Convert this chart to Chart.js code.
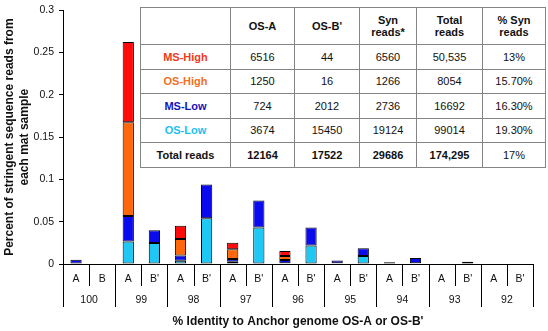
<!DOCTYPE html>
<html><head><meta charset="utf-8">
<script src="https://cdn.jsdelivr.net/npm/chart.js@4.4.1/dist/chart.umd.min.js"></script>
<style>
html,body{margin:0;padding:0;background:#fff;}
#wrap{position:relative;width:548px;height:331px;overflow:hidden;}
canvas{position:absolute;left:0;top:0;}
#tbl{position:absolute;left:140px;top:7px;width:405px;border-collapse:collapse;background:#fff;font-family:"Liberation Sans",Arial,sans-serif;font-size:11px;color:#111;table-layout:fixed;}
#tbl td{border:1.5px solid #858585;text-align:center;padding:0;line-height:12.5px;}
#tbl tr.h td{height:36px;font-weight:bold;}
#tbl tr.d td{height:23.5px;}
#tbl tr.t td{font-weight:bold;}
#tbl td.lab{font-weight:bold;}
</style></head><body>
<div id="wrap"><canvas id="c" width="548" height="331"></canvas><table id="tbl"></table></div>
<script>
// ---- chart data (fraction of stringent reads per mat sample) ----
const categories = ['A','B','A',"B'",'A',"B'",'A',"B'",'A',"B'",'A',"B'",'A',"B'",'A',"B'",'A',"B'"];
const groups = ['100','99','98','97','96','95','94','93','92'];
const osLow  = [null, null, 0.0266, 0.0247, 0.0039, 0.054, 0.0027, 0.0433, 0.001, 0.022, 0.001, 0.0095, null, 0.001, null, null, null, null];
const msLow  = [0.005, null, 0.0302, 0.0153, 0.0061, 0.040, 0.0031, 0.0317, 0.0036, 0.0213, 0.003, 0.0092, 0.0022, 0.0062, null, 0.0028, null, null];
const osHigh = [null, null, 0.1108, null, 0.0197, null, 0.0116, null, 0.005, null, null, null, null, null, null, null, null, null];
const msHigh = [null, null, 0.095, null, 0.0155, null, 0.0077, null, 0.0058, null, null, null, null, null, null, null, null, null];
const yTicks = [0, 0.05, 0.1, 0.15, 0.2, 0.25, 0.3];

// ---- table data ----
const tableHeader = [[''], ['OS-A'], ["OS-B'"], ['Syn','reads*'], ['Total','reads'], ['% Syn','reads']];
const tableRowLabels = ['MS-High','OS-High','MS-Low','OS-Low','Total reads'];
const tableRowColors = ['#EE3A1E','#F2701E','#1414B8','#1EBFEF','#111111'];
const osA = ['6516','1250','724','3674','12164'];
const osB = ['44','16','2012','15450','17522'];
const synReads = ['6560','1266','2736','19124','29686'];
const totalReads = ['50,535','8054','16692','99014','174,295'];
const pctSyn = ['13%','15.70%','16.30%','19.30%','17%'];
const colWidths = [90, 64, 65, 57, 66, 63];

// build table
(function(){
  const t = document.getElementById('tbl');
  const cg = document.createElement('colgroup');
  colWidths.forEach(w=>{const c=document.createElement('col');c.style.width=w+'px';cg.appendChild(c);});
  t.appendChild(cg);
  const hr = document.createElement('tr'); hr.className='h';
  tableHeader.forEach(lines=>{const td=document.createElement('td');lines.forEach((l,i)=>{if(i)td.appendChild(document.createElement('br'));td.appendChild(document.createTextNode(l));});hr.appendChild(td);});
  t.appendChild(hr);
  tableRowLabels.forEach((lab,r)=>{
    const tr=document.createElement('tr'); tr.className='d'+(r===tableRowLabels.length-1?' t':'');
    const vals=[lab, osA[r], osB[r], synReads[r], totalReads[r], pctSyn[r]];
    vals.forEach((v,i)=>{const td=document.createElement('td');td.textContent=v;
      if(i===0){td.className='lab';td.style.color=tableRowColors[r];}
      if(r===tableRowLabels.length-1 && i===5) td.style.fontWeight='normal';
      tr.appendChild(td);});
    t.appendChild(tr);
  });
})();

const FONT = '"Liberation Sans", Arial, sans-serif';

const groupPlugin = {
  id:'groups',
  afterDraw(chart){
    const x = chart.scales.x, ca = chart.chartArea, ctx = chart.ctx;
    const n = categories.length;
    ctx.save();
    ctx.strokeStyle = '#000'; ctx.lineWidth = 1;
    for(let i=0;i<=n;i++){
      let px;
      if(i===0) px = ca.left; else if(i===n) px = ca.right;
      else px = (x.getPixelForValue(i-1)+x.getPixelForValue(i))/2;
      const long = (i%2===0);
      ctx.beginPath();
      ctx.moveTo(Math.round(px)+0.5, ca.bottom);
      ctx.lineTo(Math.round(px)+0.5, ca.bottom + (long ? 43 : 22));
      ctx.stroke();
    }
    ctx.fillStyle = '#111';
    ctx.font = '10.5px ' + FONT;
    ctx.textAlign = 'center'; ctx.textBaseline = 'middle';
    groups.forEach((g,k)=>{
      const px = (x.getPixelForValue(2*k)+x.getPixelForValue(2*k+1))/2;
      ctx.fillText(g, px, ca.bottom + 36);
    });
    ctx.restore();
  }
};

const ds = (label, data, color) => ({label, data, backgroundColor: color, borderColor:'#000', borderWidth:1, borderSkipped:false});

new Chart(document.getElementById('c'), {
  type:'bar',
  data:{
    labels: categories,
    datasets:[
      ds('OS-Low', osLow, '#1FC8F4'),
      ds('MS-Low', msLow, '#0A0AEE'),
      ds('OS-High', osHigh, '#FF680A'),
      ds('MS-High', msHigh, '#FF0A0A')
    ]
  },
  options:{
    responsive:false, animation:false, devicePixelRatio:1,
    layout:{padding:{top:0,right:15,bottom:0,left:0}},
    datasets:{bar:{barPercentage:0.43, categoryPercentage:1}},
    plugins:{legend:{display:false}, tooltip:{enabled:false}},
    scales:{
      x:{
        stacked:true,
        grid:{display:false, drawTicks:false},
        border:{display:true, color:'#000', width:1},
        ticks:{color:'#111', font:{family:FONT, size:10.5}, padding:9, maxRotation:0, autoSkip:false},
        title:{display:true, text:"% Identity to Anchor genome OS-A or OS-B'", color:'#111', font:{family:FONT, size:12, weight:'bold'}, padding:{top:30, bottom:2}},
        afterFit(s){ s.height = 67; }
      },
      y:{
        stacked:true, min:0, max:0.3,
        afterBuildTicks(s){ s.ticks = yTicks.map(v=>({value:v})); },
        grid:{display:true, drawOnChartArea:false, drawTicks:true, tickLength:4, color:'#000'},
        border:{display:true, color:'#000', width:1},
        ticks:{color:'#111', font:{family:FONT, size:10.5, lineHeight:1}, padding:5, callback:v=>String(Number(v.toFixed(2)))},
        title:{display:true, text:['Percent of stringent sequence reads from','each mat sample'], color:'#111', font:{family:FONT, size:12, weight:'bold', lineHeight:1.25}, padding:{top:2, bottom:0}},
        afterFit(s){ s.width = 63; }
      }
    }
  },
  plugins:[groupPlugin]
});
</script>
</body></html>
